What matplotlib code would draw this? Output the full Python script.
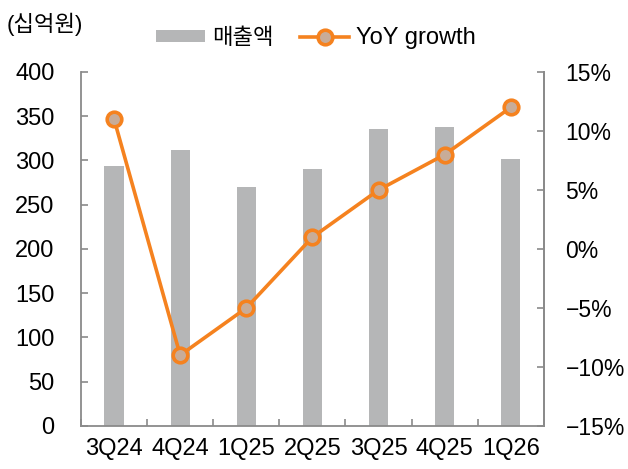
import matplotlib
matplotlib.use("Agg")
import matplotlib.pyplot as plt
from matplotlib.ticker import FuncFormatter
import numpy as np

plt.rcParams['font.family'] = ['Liberation Sans', 'Noto Sans CJK KR', 'DejaVu Sans']

categories = ['3Q24', '4Q24', '1Q25', '2Q25', '3Q25', '4Q25', '1Q26']
sales = [294, 312, 270, 290, 336, 338, 302]
yoy = [11, -9, -5, 1, 5, 8, 12]

bar_color = '#B5B6B7'
line_color = '#F5821F'
marker_fill = '#C8AC98'
spine_color = '#8A8A8A'

fig = plt.figure(figsize=(6.28, 4.69), dpi=100)
ax = fig.add_axes([0.129, 0.0917, 0.737, 0.7548])
x = np.arange(len(categories))
bars = ax.bar(x, sales, width=0.29, color=bar_color, label='매출액', zorder=1)
ax.set_xlim(-0.5, len(categories) - 0.5)
ax.set_ylim(0, 400)
ax.set_yticks(range(0, 401, 50))
ax.set_xticks(x)
ax.set_xticklabels(categories)
ax.set_xticks(np.arange(-0.5, len(categories), 1), minor=True)
ax.tick_params(axis='x', which='major', length=0, labelsize=17, pad=9)
ax.tick_params(axis='x', which='minor', direction='in', length=5, width=1.2, color=spine_color)
ax.tick_params(axis='y', direction='in', length=5, width=1.2, color=spine_color, labelsize=17, pad=19)

ax2 = ax.twinx()
line, = ax2.plot(x, yoy, color=line_color, lw=2.6, marker='o', markersize=10.5,
                 markerfacecolor=marker_fill, markeredgecolor=line_color,
                 markeredgewidth=2.6, label='YoY growth', zorder=3)
ax2.set_ylim(-15, 15)
ax2.set_yticks(range(-15, 16, 5))
ax2.yaxis.set_major_formatter(FuncFormatter(lambda v, p: f"{int(v)}%".replace('-', '\u2212')))
ax2.tick_params(axis='y', direction='in', length=5, width=1.2, color=spine_color, labelsize=16.5, pad=15.5)

for a in (ax, ax2):
    a.spines['top'].set_visible(False)
    for s in ('left', 'right', 'bottom'):
        a.spines[s].set_color(spine_color)
        a.spines[s].set_linewidth(1.3)
ax2.spines['left'].set_visible(False)
ax2.spines['bottom'].set_visible(False)

fig.text(0.010, 0.949, '(십억원)', fontsize=16, va='center', ha='left')
leg = fig.legend([bars, line], ['매출액', 'YoY growth'], loc='center', bbox_to_anchor=(0.503, 0.919),
                 ncol=2, frameon=False, fontsize=17, handlelength=2.1, handleheight=0.4,
                 columnspacing=1.1, handletextpad=0.3)
leg.get_texts()[0].set_fontsize(16)

fig.savefig('out.png', dpi=100)
